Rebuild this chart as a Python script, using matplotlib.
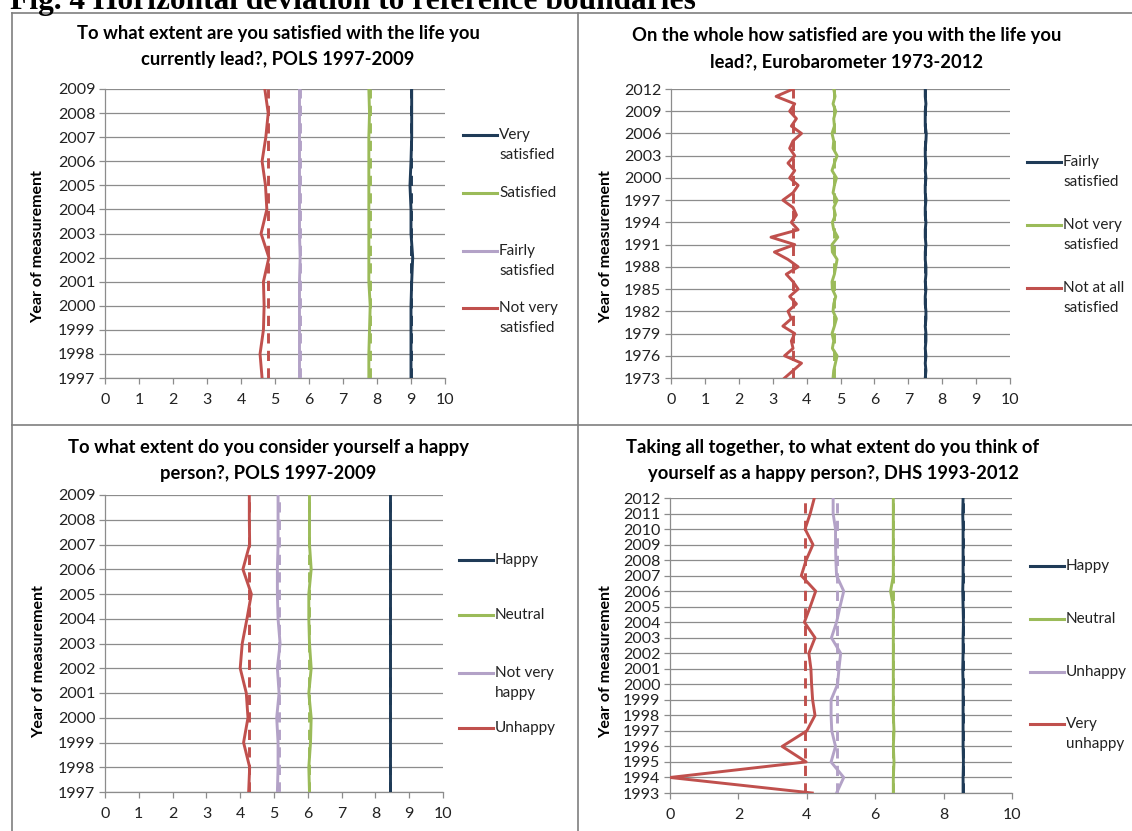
import matplotlib.pyplot as plt
from matplotlib.lines import Line2D

plt.rcParams['font.family'] = ['Lato', 'DejaVu Sans']

W, H = 1132, 831

NAVY = '#1F3B57'
GREEN = '#9BBB59'
LAV = '#B3A2C7'
RED = '#C0504D'
GRID = '#8C8C8C'
TXT = '#222222'

# --- panel A: POLS life satisfaction 1997-2009
years_a = list(range(1997, 2010))
a_very = [9.0, 9.0, 9.0, 9.0, 9.02, 9.05, 9.0, 9.0, 8.97, 9.0, 9.02, 9.02, 9.02]
a_sat = [7.76, 7.76, 7.78, 7.8, 7.76, 7.76, 7.76, 7.76, 7.76, 7.76, 7.76, 7.78, 7.76]
a_fairly = [5.72, 5.72, 5.72, 5.72, 5.72, 5.74, 5.72, 5.72, 5.72, 5.72, 5.72, 5.72, 5.72]
a_notvery = [4.62, 4.56, 4.66, 4.68, 4.66, 4.82, 4.59, 4.76, 4.72, 4.62, 4.73, 4.8, 4.7]
a_refs = [9.0, 7.78, 5.74, 4.78]
a_labels = ['Very\nsatisfied', 'Satisfied', 'Fairly\nsatisfied', 'Not very\nsatisfied']

# --- panel B: Eurobarometer life satisfaction 1973-2012
years_b = list(range(1973, 2013))
b_fairly = [7.5, 7.52, 7.5, 7.52, 7.5, 7.52, 7.52, 7.5, 7.52, 7.52, 7.5, 7.5, 7.52, 7.5,
            7.52, 7.52, 7.5, 7.5, 7.52, 7.5, 7.5, 7.52, 7.5, 7.5, 7.52, 7.5, 7.5, 7.52,
            7.5, 7.52, 7.5, 7.5, 7.52, 7.53, 7.5, 7.5, 7.5, 7.52, 7.5, 7.5]
b_notvery = [4.78, 4.8, 4.85, 4.9, 4.76, 4.8, 4.75, 4.82, 4.88, 4.78, 4.8, 4.86, 4.76,
             4.75, 4.82, 4.86, 4.9, 4.76, 4.75, 4.92, 4.8, 4.76, 4.85, 4.8, 4.9, 4.78,
             4.82, 4.88, 4.75, 4.82, 4.9, 4.78, 4.8, 4.75, 4.82, 4.8, 4.86, 4.78, 4.84, 4.8]
b_notatall = [3.35, 3.6, 3.85, 3.35, 3.6, 3.55, 3.65, 3.3, 3.55, 3.45, 3.7, 3.5, 3.75,
              3.6, 3.4, 3.75, 3.45, 3.05, 3.65, 2.95, 3.75, 3.55, 3.7, 3.6, 3.3, 3.6,
              3.75, 3.5, 3.65, 3.45, 3.65, 3.5, 3.6, 3.85, 3.55, 3.7, 3.5, 3.65, 3.1, 3.6]
b_refs = [7.5, 4.8, 3.6]
b_labels = ['Fairly\nsatisfied', 'Not very\nsatisfied', 'Not at all\nsatisfied']

# --- panel C: POLS happiness 1997-2009
years_c = list(range(1997, 2010))
c_happy = [8.43] * 13
c_neutral = [6.05, 6.03, 6.08, 6.1, 6.03, 6.1, 6.05, 6.03, 6.03, 6.1, 6.05, 6.05, 6.05]
c_notvery = [5.1, 5.12, 5.12, 5.08, 5.15, 5.1, 5.18, 5.12, 5.1, 5.1, 5.12, 5.12, 5.12]
c_unhappy = [4.25, 4.28, 4.1, 4.23, 4.18, 4.0, 4.06, 4.2, 4.33, 4.08, 4.28, 4.27, 4.27]
c_refs = [8.43, 6.05, 5.14, 4.27]
c_labels = ['Happy', 'Neutral', 'Not very\nhappy', 'Unhappy']

# --- panel D: DHS happiness 1993-2012
years_d = list(range(1993, 2013))
d_happy = [8.57, 8.57, 8.58, 8.57, 8.57, 8.57, 8.57, 8.57, 8.56, 8.57, 8.57, 8.58,
           8.57, 8.56, 8.57, 8.57, 8.57, 8.57, 8.56, 8.57]
d_neutral = [6.53, 6.53, 6.55, 6.53, 6.55, 6.53, 6.53, 6.53, 6.53, 6.53, 6.53, 6.53,
             6.53, 6.45, 6.53, 6.53, 6.53, 6.53, 6.53, 6.53]
d_unhappy = [4.87, 5.08, 4.71, 4.84, 4.73, 4.71, 4.71, 4.9, 4.94, 4.99, 4.72, 4.87,
             4.97, 5.08, 4.87, 4.85, 4.84, 4.84, 4.77, 4.77]
d_veryunhappy = [4.16, 0.0, 3.98, 3.28, 4.0, 4.24, 4.17, 4.14, 4.12, 4.06, 4.24, 3.93,
                 4.1, 4.26, 3.84, 3.98, 4.18, 3.95, 4.1, 4.22]
d_refs = [8.57, 6.53, 4.87, 3.96]
d_labels = ['Happy', 'Neutral', 'Unhappy', 'Very\nunhappy']

fig = plt.figure(figsize=(W / 100, H / 100), dpi=100)


def fx(px):
    return px / W


def fy(py):
    return 1 - py / H


def panel(box, years, series, refs, colors, yticks, xticks, title, title_x, title_y,
          ylab_xy, labels, leg_x, leg_ys):
    x0, y0, x1, y1 = box
    ax = fig.add_axes([fx(x0), fy(y1), (x1 - x0) / W, (y1 - y0) / H])
    for vals, ref, c in zip(series, refs, colors):
        ax.plot([ref] * len(years), years, color=c, lw=2.1, ls=(0, (3.5, 2.5)),
                solid_capstyle='butt', zorder=3)
        ax.plot(vals, years, color=c, lw=2.1, zorder=4)
    ax.set_xlim(0, 10)
    ax.set_ylim(years[0], years[-1])
    ax.set_xticks(xticks)
    ax.set_yticks(yticks)
    ax.yaxis.grid(True, color=GRID, lw=0.9)
    ax.set_axisbelow(True)
    for s in ['top', 'right']:
        ax.spines[s].set_visible(False)
    for s in ['left', 'bottom']:
        ax.spines[s].set_color(GRID)
        ax.spines[s].set_linewidth(0.9)
    ax.tick_params(axis='both', colors=GRID, labelcolor=TXT, labelsize=11.5,
                   length=4, width=0.9, direction='out')
    ax.tick_params(axis='x', pad=7)
    ax.tick_params(axis='y', pad=3)
    for i, line in enumerate(title.split('\n')):
        fig.text(fx(title_x), fy(title_y + i * 26), line, ha='center', va='center',
                 fontsize=13.2, fontweight='bold', color='black')
    fig.text(fx(ylab_xy[0]), fy(ylab_xy[1]), 'Year of measurement', rotation=90,
             ha='center', va='center', fontsize=11.5, fontweight='bold', color='black')
    for lab, c, ly in zip(labels, colors, leg_ys):
        fig.add_artist(Line2D([fx(leg_x), fx(leg_x + 34)], [fy(ly), fy(ly)],
                              color=c, lw=2.2, transform=fig.transFigure))
        for i, part in enumerate(lab.split('\n')):
            fig.text(fx(leg_x + 36), fy(ly + i * 20), part, ha='left', va='center',
                     fontsize=11, color=TXT)
    return ax


panel((105, 89, 445, 378), years_a, [a_very, a_sat, a_fairly, a_notvery], a_refs,
      [NAVY, GREEN, LAV, RED], years_a, range(0, 11),
      'To what extent are you satisfied with the life you\ncurrently lead?, POLS 1997-2009',
      278, 33, (38, 247), a_labels, 463, [135, 193, 251, 308])

panel((671, 89, 1010, 378), years_b, [b_fairly, b_notvery, b_notatall], b_refs,
      [NAVY, GREEN, RED], list(range(1973, 2013, 3)), range(0, 11),
      'On the whole how satisfied are you with the life you\nlead?, Eurobarometer 1973-2012',
      847, 36, (606, 247), b_labels, 1027, [162, 225, 288])

panel((105, 495, 443, 792), years_c, [c_happy, c_neutral, c_notvery, c_unhappy], c_refs,
      [NAVY, GREEN, LAV, RED], years_c, range(0, 11),
      'To what extent do you consider yourself a happy\nperson?, POLS 1997-2009',
      268, 447, (39, 662), c_labels, 459, [560, 615, 673, 728])

panel((670, 498, 1012, 793), years_d, [d_happy, d_neutral, d_unhappy, d_veryunhappy],
      d_refs, [NAVY, GREEN, LAV, RED], years_d, range(0, 11, 2),
      'Taking all together, to what extent do you think of\nyourself as a happy person?, DHS 1993-2012',
      833, 448, (606, 662), d_labels, 1030, [566, 619, 672, 724])

# frame around the four panels
FRAME = '#7F7F7F'
for xs, ys in [((12, W), (13, 13)), ((12, 12), (13, H)), ((578, 578), (13, H)),
               ((12, W), (425, 425))]:
    fig.add_artist(Line2D([fx(xs[0]), fx(xs[1])], [fy(ys[0]), fy(ys[1])],
                          color=FRAME, lw=1.2, transform=fig.transFigure))

fig.text(fx(10), fy(9), 'Fig. 4 Horizontal deviation to reference boundaries',
         family=['Liberation Serif', 'DejaVu Serif'], fontweight='bold', fontsize=22.6,
         ha='left', va='baseline', color='black')

fig.savefig('out.png', dpi=100, facecolor='white')
